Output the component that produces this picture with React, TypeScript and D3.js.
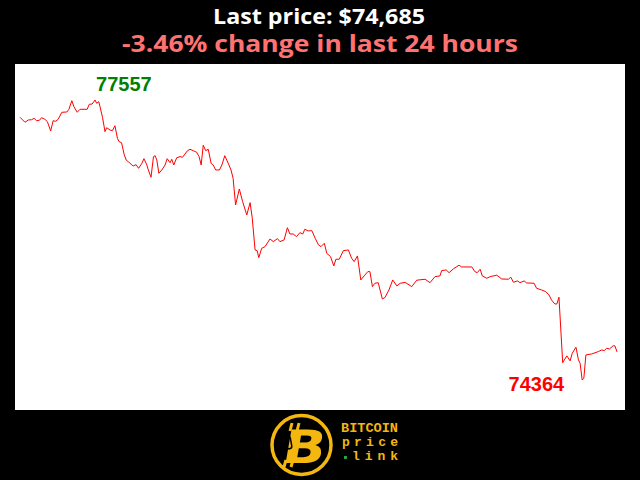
import * as d3 from "d3";
import React from "react";

// minutes since the start of the 24h window
const minutes = [
  0, 12, 20, 28, 34, 40, 47, 52, 60, 66, 74, 80, 86, 92, 101, 113, 118, 125, 130, 138,
  145, 162, 167, 174, 181, 185, 190, 193, 199, 205, 209, 217, 223, 229, 235, 239, 245, 251, 256, 261,
  268, 273, 280, 286, 294, 299, 306, 309, 316, 322, 326, 330, 335, 342, 350, 355, 362, 366, 371, 378,
  386, 392, 398, 404, 410, 418, 426, 432, 437, 442, 448, 454, 461, 466, 472, 481, 487, 494, 504, 509,
  514, 520, 529, 537, 547, 555, 560, 567, 572, 576, 583, 591, 603, 611, 621, 627, 637, 645, 651, 659,
  667, 675, 682, 687, 695, 704, 712, 720, 726, 734, 740, 749, 757, 762, 770, 780, 792, 800, 806, 814,
  822, 830, 839, 844, 850, 856, 864, 874, 880, 890, 899, 909, 917, 929, 945, 957, 977, 989, 1001, 1013,
  1017, 1028, 1035, 1045, 1059, 1065, 1090, 1097, 1103, 1110, 1115, 1126, 1134, 1150, 1162, 1178, 1184, 1190, 1200, 1206,
  1216, 1222, 1240, 1246, 1258, 1268, 1276, 1282, 1290, 1295, 1300, 1309, 1319, 1327, 1332, 1341, 1347, 1351, 1356, 1360,
  1365, 1379, 1395, 1403, 1409, 1415, 1422, 1431, 1435, 1440,
];

// BTC price in USD
const prices = [
  77360, 77303, 77329, 77332, 77348, 77321, 77326, 77355, 77337, 77310, 77204, 77321, 77314, 77337, 77417, 77420, 77451, 77549, 77481, 77417,
  77451, 77451, 77508, 77511, 77557, 77519, 77538, 77481, 77360, 77196, 77241, 77215, 77207, 77264, 77120, 77082, 77070, 76941, 76873, 76854,
  76824, 76805, 76819, 76778, 76835, 76888, 76816, 76767, 76676, 76911, 76922, 76873, 76721, 76759, 76816, 76888, 76842, 76881, 76816, 76899,
  76911, 76904, 76941, 76979, 76995, 76979, 76961, 76911, 76816, 77041, 76979, 76995, 76835, 76816, 76759, 76759, 76816, 76922, 76816, 76759,
  76664, 76360, 76542, 76398, 76246, 76386, 76220, 75847, 75839, 75759, 75866, 75885, 75972, 75942, 75976, 75942, 75961, 76101, 76029, 76029,
  75999, 76044, 76029, 76083, 76064, 76067, 75980, 75904, 75885, 75923, 75809, 75771, 75665, 75741, 75741, 75839, 75847, 75752, 75714, 75779,
  75505, 75551, 75600, 75600, 75429, 75467, 75474, 75288, 75303, 75391, 75505, 75437, 75467, 75477, 75429, 75502, 75513, 75474, 75543, 75551,
  75611, 75619, 75588, 75630, 75673, 75653, 75653, 75600, 75588, 75627, 75551, 75524, 75543, 75559, 75516, 75513, 75536, 75479, 75494, 75474,
  75494, 75471, 75467, 75410, 75391, 75372, 75334, 75277, 75231, 75231, 75308, 74562, 74639, 74582, 74669, 74738, 74593, 74555, 74364, 74384,
  74650, 74661, 74688, 74707, 74699, 74726, 74718, 74756, 74753, 74685,
];

const W = 640;
const H = 480;
const plot = { left: 15, top: 64, right: 625, bottom: 410 };

export default function App() {
  const data = minutes.map((m, i) => ({ m, p: prices[i] }));

  const x = d3.scaleLinear().domain([0, 1440]).range([20, 617]);
  const y = d3
    .scaleLinear()
    .domain(d3.extent(prices) as [number, number])
    .range([380, 100]);

  const line = d3
    .line<(typeof data)[number]>()
    .x((d) => x(d.m))
    .y((d) => y(d.p));

  const maxI = d3.maxIndex(prices);
  const minI = d3.minIndex(prices);
  const last = prices[prices.length - 1];
  const first = prices[0];
  const change = ((last - first) / first) * 100;

  const gold = "#f4b70f";
  const mono = "'Liberation Mono', 'DejaVu Sans Mono', monospace";

  return (
    <div style={{ position: "fixed", left: 0, top: 0 }}>
      <svg width={W} height={H} style={{ display: "block", background: "#000" }}>
        <rect width={W} height={H} fill="#000" />

        {/* title */}
        <text
          x={213}
          y={24}
          textLength={212}
          lengthAdjust="spacingAndGlyphs"
          fill="#fff"
          fontFamily="'Open Sans', sans-serif"
          fontWeight="bold"
          fontSize={22}
        >
          Last price: ${d3.format(",")(last)}
        </text>
        <text
          x={122}
          y={52}
          textLength={396}
          lengthAdjust="spacingAndGlyphs"
          fill="#ff7272"
          fontFamily="'Open Sans', sans-serif"
          fontWeight="bold"
          fontSize={24}
        >
          {change.toFixed(2)}% change in last 24 hours
        </text>

        {/* plot area */}
        <rect
          x={plot.left}
          y={plot.top}
          width={plot.right - plot.left}
          height={plot.bottom - plot.top}
          fill="#fff"
        />
        <path d={line(data) ?? undefined} fill="none" stroke="#ff0000" strokeWidth={1} />

        {/* max / min labels */}
        <text
          x={x(minutes[maxI]) + 1}
          y={y(prices[maxI]) - 9}
          fill="#008000"
          fontFamily="'Liberation Sans', Arial, sans-serif"
          fontWeight="bold"
          fontSize={20}
        >
          {prices[maxI]}
        </text>
        <text
          x={x(minutes[minI]) - 18}
          y={y(prices[minI]) + 11}
          textAnchor="end"
          fill="#ff0000"
          fontFamily="'Liberation Sans', Arial, sans-serif"
          fontWeight="bold"
          fontSize={20}
        >
          {prices[minI]}
        </text>

        {/* logo */}
        <g>
          <circle cx={301.5} cy={445} r={29.5} fill="#000" stroke={gold} strokeWidth={3.5} />
          <line x1={292} y1={423} x2={290} y2={431} stroke={gold} strokeWidth={3} />
          <line x1={299} y1={423} x2={297} y2={431} stroke={gold} strokeWidth={3} />
          <line x1={286} y1={460} x2={284} y2={467} stroke={gold} strokeWidth={3} />
          <line x1={293} y1={460} x2={291} y2={467} stroke={gold} strokeWidth={3} />
          <text
            transform="translate(302,463) skewX(-10) scale(1.22,1)"
            textAnchor="middle"
            fill={gold}
            fontFamily="'DejaVu Sans', sans-serif"
            fontWeight="bold"
            fontSize={46}
          >
            B
          </text>
          <rect x={286} y={436} width={5} height={13} rx={2.5} fill="none" stroke="#000" strokeWidth={1.5} transform="rotate(-10 288 442)" />
          <text x={341} y={432} textLength={57} lengthAdjust="spacingAndGlyphs" fill={gold} fontFamily={mono} fontWeight="bold" fontSize={12}>
            BITCOIN
          </text>
          <text x={342} y={446} textLength={56} lengthAdjust="spacing" fill={gold} fontFamily={mono} fontWeight="bold" fontSize={13}>
            price
          </text>
          <rect x={344} y={456} width={3} height={3} fill="#2ea043" />
          <text x={352} y={460} textLength={46} lengthAdjust="spacing" fill={gold} fontFamily={mono} fontWeight="bold" fontSize={13}>
            link
          </text>
        </g>
      </svg>
    </div>
  );
}
